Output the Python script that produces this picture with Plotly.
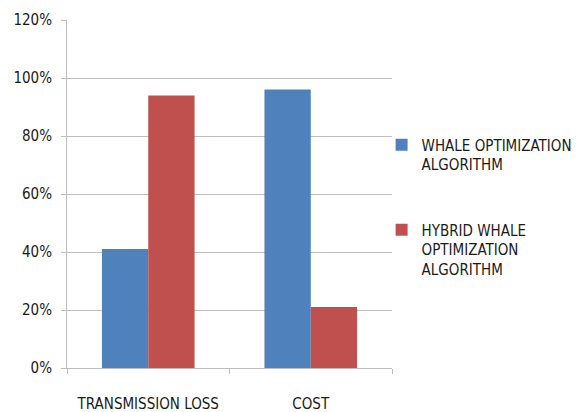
import plotly.graph_objects as go

categories = ["TRANSMISSION LOSS", "COST"]
series_names = ["WHALE OPTIMIZATION<br>ALGORITHM", "HYBRID WHALE<br>OPTIMIZATION<br>ALGORITHM"]
woa_values = [0.41, 0.96]
hwoa_values = [0.94, 0.21]
colors = ["#4F81BD", "#C0504D"]
y_ticks = [0, 0.2, 0.4, 0.6, 0.8, 1.0, 1.2]

FONT = "DejaVu Sans Condensed, Liberation Sans, sans-serif"

fig = go.Figure()
for name, vals, col, grp in zip(series_names, [woa_values, hwoa_values], colors, ["a", "b"]):
    fig.add_trace(go.Bar(
        x=categories, y=vals, name=name, legendgroup=grp,
        marker=dict(color=col, line=dict(width=0)),
    ))

fig.update_layout(
    width=581, height=412,
    margin=dict(l=67, r=189, t=20, b=44, autoexpand=False),
    paper_bgcolor="white", plot_bgcolor="white",
    barmode="group", bargap=0.43, bargroupgap=0,
    font=dict(family=FONT, size=15, color="#1a1a1a"),
    showlegend=True,
    legend=dict(
        x=0.968, y=0.688, xanchor="left", yanchor="top",
        bgcolor="rgba(0,0,0,0)",
        font=dict(family=FONT, size=15, color="#1a1a1a"),
        traceorder="grouped", tracegroupgap=43, valign="top",
        itemwidth=30,
    ),
)
fig.update_yaxes(
    range=[0, 1.2], tickvals=y_ticks, tickformat=".0%",
    showgrid=True, gridcolor="#BEBEBE", gridwidth=1,
    showline=True, linecolor="#BEBEBE", linewidth=1,
    ticks="outside", ticklen=5, tickcolor="#BEBEBE",
    ticklabelstandoff=6, zeroline=False, automargin=False,
)
fig.update_xaxes(
    showline=True, linecolor="#BEBEBE", linewidth=1,
    ticks="outside", ticklen=5, tickcolor="#BEBEBE",
    tickson="boundaries", ticklabelstandoff=22, tickangle=0,
    automargin=False,
)
fig.write_html("out.html")
